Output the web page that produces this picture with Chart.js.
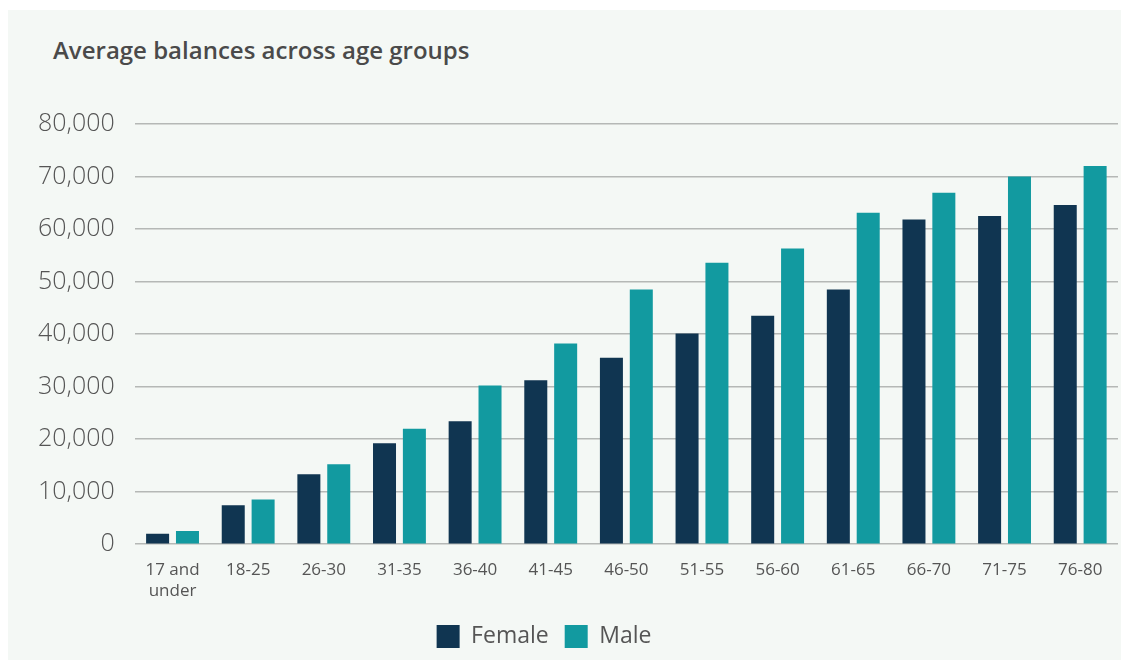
<!DOCTYPE html>
<html>
<head>
<meta charset="utf-8">
<script src="https://cdn.jsdelivr.net/npm/chart.js@4"></script>
<style>
  body { margin: 0; background: #fff; }
  .panel {
    position: absolute; left: 8px; top: 10px;
    width: 1113px; height: 650px;
    background: #f4f8f5;
  }
  .panel h2 {
    position: absolute; left: 45px; top: 23px; margin: 0;
    font: 600 24px "Open Sans", sans-serif; color: #4a4a4a;
  }
  .panel canvas { position: absolute; left: 0; top: 0; }
</style>
</head>
<body>
<div class="panel">
  <h2>Average balances across age groups</h2>
  <canvas id="chart" width="1113" height="650"></canvas>
</div>
<script>
const categories = [["17 and", "under"], "18-25", "26-30", "31-35", "36-40", "41-45", "46-50",
  "51-55", "56-60", "61-65", "66-70", "71-75", "76-80"];
const female = [2000, 7400, 13300, 19200, 23400, 31200, 35500, 40100, 43500, 48500, 61800, 62500, 64600];
const male = [2500, 8500, 15200, 22000, 30200, 38200, 48500, 53600, 56300, 63100, 66900, 70000, 72000];
const yTicks = [0, 10000, 20000, 30000, 40000, 50000, 60000, 70000, 80000];

const font = "'Open Sans', sans-serif";

// the legend in the original sits a little left of centre
const shiftLegend = {
  id: "shiftLegend",
  afterLayout(chart) {
    chart.legend.left -= 24;
    chart.legend.right -= 24;
  },
};

document.addEventListener("DOMContentLoaded", () => {
  const ctx = document.getElementById("chart").getContext("2d");
  new Chart(ctx, {
    type: "bar",
    data: {
      labels: categories,
      datasets: [
        { label: "Female", data: female, backgroundColor: "#103551" },
        { label: "Male", data: male, backgroundColor: "#129aa0" },
      ],
    },
    plugins: [shiftLegend],
    options: {
      responsive: false,
      animation: false,
      categoryPercentage: 0.79,
      barPercentage: 0.77,
      layout: { padding: { top: 114, right: 3, left: 10, bottom: 2 } },
      plugins: {
        legend: {
          position: "bottom",
          labels: {
            boxWidth: 23, boxHeight: 23, padding: 16,
            color: "#555", font: { family: font, size: 23 },
          },
        },
        tooltip: { enabled: false },
      },
      scales: {
        x: {
          grid: { display: false },
          border: { display: false },
          ticks: {
            color: "#555", maxRotation: 0, padding: 8,
            font: { family: font, size: 17 },
          },
        },
        y: {
          min: 0, max: 80000,
          afterBuildTicks: (axis) => { axis.ticks = yTicks.map((v) => ({ value: v })); },
          grid: { color: "#b5b8b6", lineWidth: 1.5, drawTicks: false },
          border: { display: false },
          ticks: {
            color: "#555", padding: 20,
            font: { family: font, size: 25, weight: 300 },
            callback: (v) => v.toLocaleString("en-US"),
          },
        },
      },
    },
  });
});
</script>
</body>
</html>
